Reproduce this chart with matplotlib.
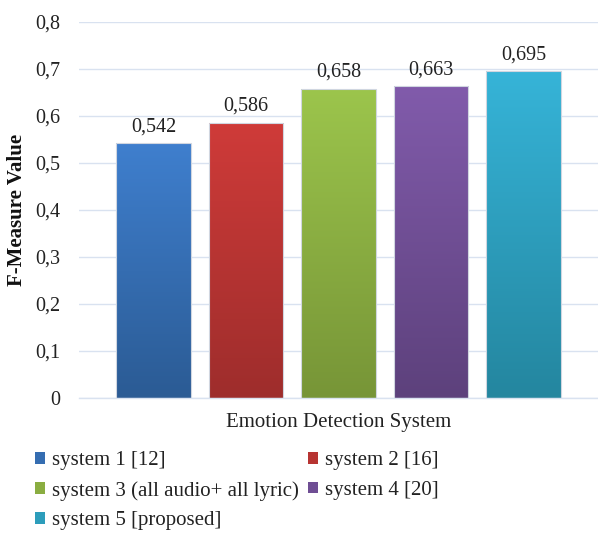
import matplotlib
matplotlib.use("Agg")
import matplotlib.pyplot as plt
import numpy as np
from matplotlib.colors import LinearSegmentedColormap
from matplotlib.patches import Patch

systems = ["system 1 [12]", "system 2 [16]", "system 3 (all audio+ all lyric)",
           "system 4 [20]", "system 5 [proposed]"]
values = [0.542, 0.586, 0.658, 0.663, 0.695]
labels = ["0,542", "0,586", "0,658", "0,663", "0,695"]
yticks = [0, 0.1, 0.2, 0.3, 0.4, 0.5, 0.6, 0.7, 0.8]
ytick_labels = ["0", "0,1", "0,2", "0,3", "0,4", "0,5", "0,6", "0,7", "0,8"]
top_colors = ["#3F7FCE", "#CF3B39", "#9CC54C", "#815BAB", "#36B4D8"]
bot_colors = ["#2B5B94", "#9E2D2C", "#779537", "#5D417C", "#24869F"]
mid_colors = ["#356DB1", "#B73432", "#8AAD41", "#6F4E94", "#2D9DBB"]

plt.rcParams['font.family'] = ['Liberation Serif', 'DejaVu Serif']

fig = plt.figure(figsize=(5.98, 5.35), dpi=100)
ax = fig.add_axes([79/598, 137/535, 519/598, 376/535])

x = np.arange(len(values))
width = 0.81
bars = ax.bar(x, values, width=width, color="none", edgecolor="#D0D6E0",
              linewidth=0.8, zorder=3)

grad = np.linspace(0, 1, 256).reshape(-1, 1)
for b, tc, bc in zip(bars, top_colors, bot_colors):
    cmap = LinearSegmentedColormap.from_list("g", [bc, tc])
    x0, y0 = b.get_x(), b.get_y()
    w, h = b.get_width(), b.get_height()
    im = ax.imshow(grad, extent=[x0, x0 + w, y0, y0 + h], origin="lower",
                   cmap=cmap, aspect="auto", zorder=2)
    im.set_clip_path(b)

for xi, v, lab in zip(x, values, labels):
    ax.annotate(lab, (xi, v), xytext=(0, 5), textcoords="offset points",
                ha="center", va="bottom", fontsize=14.5, color="#222222")

ax.set_xlim(-0.805, 4.805)
ax.set_ylim(0, 0.8)
ax.set_yticks(yticks)
ax.set_yticklabels(ytick_labels, fontsize=14.5, color="#222222")
ax.set_xticks([])
ax.tick_params(axis="y", length=0, pad=13.5)
ax.grid(axis="y", color="#D9E2F0", linewidth=1, zorder=0)
ax.set_axisbelow(True)
for s in ["top", "right", "left"]:
    ax.spines[s].set_visible(False)
ax.spines["bottom"].set_color("#D9E2F0")
ax.spines["bottom"].set_linewidth(1)

fig.text(17/598, 1 - 210/535, "F-Measure Value", rotation=90, fontsize=15,
         fontweight="bold", ha="center", va="center", color="#111111")
ax.set_xlabel("Emotion Detection System", fontsize=15, color="#222222", labelpad=11)

# row-major legend order: col1 = s1, s3, s5 ; col2 = s2, s4
order = [0, 2, 4, 1, 3]
handles = [Patch(facecolor=mid_colors[i], edgecolor="none") for i in order]
leg_labels = [systems[i] for i in order]
leg = fig.legend(handles, leg_labels, loc="upper left",
                 bbox_to_anchor=(35/598, 1 - 451/535),
                 ncol=2, frameon=False, fontsize=15, handlelength=0.5, handleheight=0.5,
                 handletextpad=0.3, columnspacing=0.45, labelspacing=0.52,
                 borderaxespad=0, borderpad=0)
for t in leg.get_texts():
    t.set_color("#222222")

fig.savefig("out.png", dpi=100)
